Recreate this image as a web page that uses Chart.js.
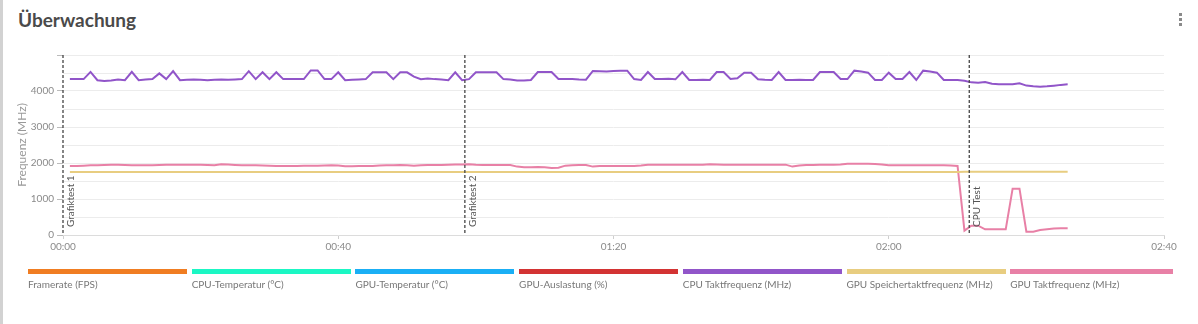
<!DOCTYPE html>
<html>
<head>
<meta charset="utf-8">
<script src="https://cdn.jsdelivr.net/npm/chart.js@4.4.1/dist/chart.umd.min.js"></script>
<style>
  html, body { margin: 0; padding: 0; background: #fff; }
  body { width: 1198px; height: 324px; position: relative; overflow: hidden; font-family: Lato, "Open Sans", sans-serif; }
  #leftbar { position: absolute; left: 0; top: 0; width: 3px; height: 324px; background: #d2d2d2; }
  #title { position: absolute; left: 18px; top: 8px; font-size: 19px; line-height: 24px; font-weight: 700; color: #4a4a4a; }
  .dot { position: absolute; left: 1179px; width: 3px; height: 3px; background: #8a8a8a; }
  #wrap { position: absolute; left: 0; top: 40px; width: 1198px; height: 230px; }
  #legend { position: absolute; left: 0; top: 269px; width: 1198px; height: 30px; }
  .item { position: absolute; top: 0; }
  .bar { height: 5px; width: 100%; }
  .lab { margin-top: 4px; font-size: 10px; line-height: 13px; color: #777; white-space: nowrap; }
</style>
</head>
<body>
<div id="leftbar"></div>
<div id="title">Überwachung</div>
<div class="dot" style="top:13px"></div>
<div class="dot" style="top:18px"></div>
<div class="dot" style="top:23px"></div>
<div id="wrap"><canvas id="c" width="1198" height="230"></canvas></div>
<div id="legend"></div>
<script>
// ---- data ----
const times = [
  1,2,3,4,5,6,7,8,9,10,11,12,13,14,15,16,17,18,19,20,
  21,22,23,24,25,26,27,28,29,30,31,32,33,34,35,36,37,38,39,40,
  41,42,43,44,45,46,47,48,49,50,51,52,53,54,55,56,57,58,59,60,
  61,62,63,64,65,66,67,68,69,70,71,72,73,74,75,76,77,78,79,80,
  81,82,83,84,85,86,87,88,89,90,91,92,93,94,95,96,97,98,99,100,
  101,102,103,104,105,106,107,108,109,110,111,112,113,114,115,116,117,118,119,120,
  121,122,123,124,125,126,127,128,129,130,131,132,133,134,135,136,137,138,139,140,
  141,142,143,144,145,146
];
const cpuTakt = [
  4330,4330,4330,4530,4300,4280,4290,4320,4300,4530,
  4300,4320,4330,4490,4330,4550,4300,4310,4320,4310,
  4300,4310,4320,4310,4320,4330,4550,4330,4520,4330,
  4520,4330,4330,4330,4330,4570,4570,4330,4330,4520,
  4300,4310,4320,4330,4520,4520,4520,4330,4520,4520,
  4400,4330,4350,4330,4320,4300,4520,4300,4330,4520,
  4520,4520,4520,4330,4320,4290,4295,4306,4528,4528,
  4528,4333,4333,4333,4320,4315,4556,4550,4545,4556,
  4560,4565,4333,4306,4528,4333,4333,4340,4324,4528,
  4306,4306,4310,4306,4528,4528,4333,4352,4509,4509,
  4324,4310,4306,4528,4306,4306,4310,4306,4306,4528,
  4528,4528,4333,4333,4565,4540,4509,4306,4306,4509,
  4333,4333,4528,4306,4565,4540,4509,4306,4306,4306,
  4287,4240,4231,4250,4200,4185,4185,4185,4213,4150,
  4130,4120,4130,4148,4170,4185
];
const gpuSpeicher = [
  1748,1748,1748,1748,1750,1750,1750,1750,1750,1750,
  1750,1750,1750,1750,1750,1750,1750,1750,1750,1750,
  1750,1750,1750,1750,1750,1750,1750,1750,1750,1750,
  1750,1750,1750,1750,1750,1750,1750,1750,1750,1750,
  1750,1750,1750,1750,1752,1752,1750,1750,1750,1750,
  1750,1750,1750,1750,1750,1750,1750,1750,1750,1750,
  1750,1750,1750,1750,1750,1750,1750,1750,1750,1750,
  1750,1750,1750,1750,1750,1750,1750,1750,1750,1750,
  1750,1750,1750,1750,1750,1750,1750,1750,1750,1750,
  1750,1750,1750,1750,1750,1750,1750,1750,1750,1750,
  1750,1750,1750,1750,1750,1750,1750,1750,1750,1750,
  1750,1750,1750,1750,1750,1750,1750,1750,1750,1750,
  1750,1750,1750,1750,1750,1750,1750,1750,1752,1752,
  1755,1755,1755,1755,1755,1755,1755,1755,1755,1755,
  1755,1755,1755,1755,1755,1755
];
const gpuTakt = [
  1917,1917,1925,1935,1940,1945,1954,1950,1945,1935,
  1935,1935,1935,1945,1954,1954,1954,1954,1954,1954,
  1945,1935,1963,1955,1945,1935,1935,1935,1930,1926,
  1920,1917,1917,1920,1926,1926,1926,1930,1935,1930,
  1907,1910,1915,1917,1920,1930,1935,1940,1944,1935,
  1926,1935,1944,1944,1944,1950,1955,1960,1963,1950,
  1944,1944,1944,1944,1944,1900,1880,1885,1889,1880,
  1861,1870,1926,1935,1945,1944,1900,1915,1917,1917,
  1917,1917,1917,1930,1954,1954,1954,1954,1954,1954,
  1954,1954,1954,1963,1960,1954,1954,1954,1954,1954,
  1954,1954,1954,1954,1954,1900,1930,1944,1944,1950,
  1954,1954,1960,1981,1981,1981,1977,1972,1960,1935,
  1935,1935,1935,1935,1935,1935,1935,1935,1930,1920,
  120,259,259,157,157,157,157,1287,1287,93,
  93,140,160,180,185,185
];
const framerate = [];
const cpuTemp = [];
const gpuTemp = [];
const gpuLast = [];

const seriesNames = ['Framerate (FPS)', 'CPU-Temperatur (°C)', 'GPU-Temperatur (°C)', 'GPU-Auslastung (%)',
  'CPU Taktfrequenz (MHz)', 'GPU Speichertaktfrequenz (MHz)', 'GPU Taktfrequenz (MHz)'];
const seriesColors = ['#f07d22', '#1bf7c4', '#1aaff5', '#d33333', '#9155c9', '#e8cd80', '#e880a6'];
const seriesValues = [framerate, cpuTemp, gpuTemp, gpuLast, cpuTakt, gpuSpeicher, gpuTakt];

const markerTimes = [0, 58.4, 131.7];
const markerLabels = ['Grafiktest 1', 'Grafiktest 2', 'CPU Test'];

const xTickMax = 160;
const yMax = 5000;

// ---- chart ----
const FONT = 'Lato, "Open Sans", sans-serif';
const datasets = seriesNames.map((name, i) => ({
  label: name,
  data: seriesValues[i].map((v, j) => ({ x: times[j], y: v })),
  borderColor: seriesColors[i],
  backgroundColor: seriesColors[i],
  borderWidth: 2,
  pointRadius: 0,
  tension: 0,
  fill: false
}));

const markerPlugin = {
  id: 'markers',
  afterDatasetsDraw(chart) {
    const { ctx, chartArea, scales } = chart;
    ctx.save();
    markerTimes.forEach((t, i) => {
      const x = scales.x.getPixelForValue(t);
      ctx.beginPath();
      ctx.setLineDash([3, 2]);
      ctx.lineWidth = 1.3;
      ctx.strokeStyle = '#444';
      ctx.moveTo(x, chartArea.top);
      ctx.lineTo(x, chartArea.bottom);
      ctx.stroke();
      ctx.save();
      ctx.translate(x + 7.5, chartArea.bottom - 8);
      ctx.rotate(-Math.PI / 2);
      ctx.font = '10px ' + FONT;
      ctx.fillStyle = '#555';
      ctx.textAlign = 'left';
      ctx.textBaseline = 'middle';
      ctx.setLineDash([]);
      ctx.fillText(markerLabels[i], 0, 0);
      ctx.restore();
    });
    ctx.restore();
  }
};

function fmt(v) {
  const h = Math.floor(v / 60), m = Math.round(v % 60);
  return String(h).padStart(2, '0') + ':' + String(m).padStart(2, '0');
}

new Chart(document.getElementById('c'), {
  type: 'line',
  data: { datasets },
  plugins: [markerPlugin],
  options: {
    responsive: false,
    animation: false,
    events: [],
    layout: { padding: { left: 11, right: 34, top: 15, bottom: 0 } },
    plugins: { legend: { display: false }, tooltip: { enabled: false } },
    scales: {
      x: {
        type: 'linear', min: 0, max: xTickMax,
        afterFit: (s) => { s.height = 35; },
        border: { display: true, color: '#dcdcdc' },
        grid: { drawOnChartArea: false, tickLength: 4, color: '#cfcfcf' },
        ticks: { stepSize: 40, padding: 2, color: '#8a8a8a', font: { size: 10, family: FONT }, maxRotation: 0, callback: (v) => fmt(v) }
      },
      y: {
        min: 0, max: yMax,
        afterFit: (s) => { s.width = 52; },
        border: { display: false },
        grid: {
          color: '#ececec', tickLength: 6,
          tickColor: (c) => (c.tick && c.tick.value % 1000 === 0) ? '#bbbbbb' : 'rgba(0,0,0,0)'
        },
        ticks: { stepSize: 500, padding: 3, color: '#8a8a8a', font: { size: 10, family: FONT },
          callback: (v) => (v % 1000 === 0 && v !== yMax) ? String(v) : '' },
        title: { display: true, text: 'Frequenz (MHz)', color: '#999', font: { size: 12, family: FONT } }
      }
    }
  }
});

// ---- legend ----
const legend = document.getElementById('legend');
seriesNames.forEach((name, i) => {
  const it = document.createElement('div');
  it.className = 'item';
  it.style.left = (28 + i * 163.7) + 'px';
  it.style.width = (i === seriesNames.length - 1 ? 163 : 159) + 'px';
  const b = document.createElement('div');
  b.className = 'bar';
  b.style.background = seriesColors[i];
  const l = document.createElement('div');
  l.className = 'lab';
  l.textContent = name;
  it.appendChild(b); it.appendChild(l);
  legend.appendChild(it);
});
</script>
</body>
</html>
